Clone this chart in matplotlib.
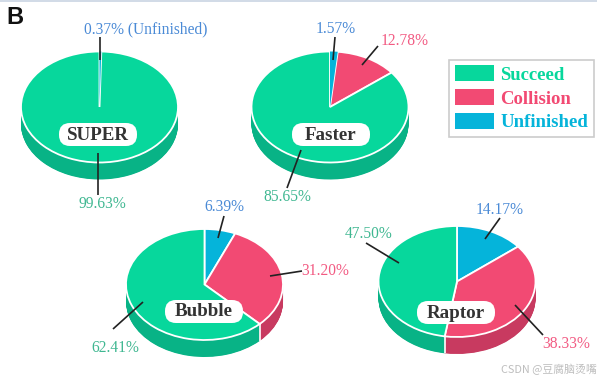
import numpy as np
import matplotlib
matplotlib.use("Agg")
import matplotlib.pyplot as plt
from matplotlib.patches import FancyBboxPatch, Patch

W, H = 597, 381

# data
methods = ["SUPER", "Faster", "Bubble", "Raptor"]
unfinished = [0.37, 1.57, 6.39, 14.17]
collision = [0.0, 12.78, 31.20, 38.33]
succeed = [99.63, 85.65, 62.41, 47.50]
outcomes = ["Succeed", "Collision", "Unfinished"]

# styles
TOP = {"Succeed": "#07d79c", "Collision": "#f24a73", "Unfinished": "#05b4da"}
SIDE = {"Succeed": "#08b386", "Collision": "#c83a60", "Unfinished": "#0590b0"}
TXT = {"Succeed": "#3fb791", "Collision": "#f25a82", "Unfinished": "#4a8ad6"}

# layout, in pixels
RX, RY, DEPTH = 78.5, 55.5, 17
centres = [(99.5, 107), (330, 107), (204.5, 284.5), (457, 281.5)]
pills = [(59, 123), (292, 123), (165, 300), (417, 301)]
PILL_W, PILL_H = 78, 23

# label centre and leader line ends, by outcome, for each pie
label_pos = [
    {"Unfinished": (145.5, 29), "Succeed": (102, 204)},
    {"Unfinished": (335.5, 29), "Collision": (404.5, 41), "Succeed": (287, 197)},
    {"Unfinished": (224, 207), "Collision": (325, 271), "Succeed": (115, 348)},
    {"Unfinished": (500, 210), "Collision": (566, 344), "Succeed": (368.5, 234)},
]
leaders = [
    {"Unfinished": ((100, 37), (100, 60)), "Succeed": ((98, 153), (98, 195))},
    {"Unfinished": ((335, 37), (333, 60)), "Collision": ((378, 46), (362, 65)),
     "Succeed": ((301, 150), (287, 188))},
    {"Unfinished": ((224, 216), (218, 238)), "Collision": ((302, 271), (270, 276)),
     "Succeed": ((143, 302), (113, 329))},
    {"Unfinished": ((500, 218), (485, 239)), "Collision": ((543, 335), (515, 305)),
     "Succeed": ((366, 243), (399, 263))},
]

SERIF = "Liberation Serif"
fig = plt.figure(figsize=(W / 100, H / 100), dpi=100, facecolor="white")


def add_px_axes(x0, y0, w, h, **kw):
    return fig.add_axes([x0 / W, 1 - (y0 + h) / H, w / W, h / H], **kw)


order = ["Unfinished", "Collision", "Succeed"]
for i, name in enumerate(methods):
    cx, cy = centres[i]
    series = {"Unfinished": unfinished[i], "Collision": collision[i], "Succeed": succeed[i]}
    present = [k for k in order if series[k] > 0]
    vals = [series[k] for k in present]

    ax = add_px_axes(cx - RX - 2, cy - RY - 2, 2 * RX + 4, 2 * RY + DEPTH + 4)
    # side wall: dark copies of the same pie stepped downward
    for d in np.arange(DEPTH, 0, -0.5):
        ax.pie(vals, colors=[SIDE[k] for k in present], startangle=90, counterclock=False,
               center=(0, -d / RY), radius=1, wedgeprops={"linewidth": 0})
    ax.pie(vals, colors=[TOP[k] for k in present], startangle=90, counterclock=False,
           center=(0, 0), radius=1, wedgeprops={"edgecolor": "white", "linewidth": 1.3})
    # a very thin slice would vanish under its white edges: lay its fill back on top
    if series["Unfinished"] < 2:
        ax.pie(vals, colors=[TOP["Unfinished"]] + ["none"] * (len(vals) - 1), startangle=90,
               counterclock=False, center=(0, 0), radius=1, wedgeprops={"linewidth": 0})
    ax.set_aspect("auto")
    ax.set_xlim(-(RX + 2) / RX, (RX + 2) / RX)
    ax.set_ylim(-(RY + DEPTH + 2) / RY, (RY + 2) / RY)
    ax.axis("off")

    # white seams on the side wall where a boundary faces the viewer
    for b in np.cumsum(vals)[:-1]:
        th = np.pi / 2 - 2 * np.pi * b / 100
        if np.sin(th) < 0:
            ax.plot([np.cos(th)] * 2, [np.sin(th), np.sin(th) - DEPTH / RY],
                    color="white", lw=1.2, solid_capstyle="butt")

ov = add_px_axes(0, 0, W, H, zorder=5)
ov.set_xlim(0, W)
ov.set_ylim(H, 0)
ov.axis("off")
ov.patch.set_alpha(0)

for i, name in enumerate(methods):
    px, py = pills[i]
    ov.add_patch(FancyBboxPatch((px + 11, py + 11), PILL_W - 22, PILL_H - 22,
                                boxstyle="round,pad=11,rounding_size=11",
                                fc="white", ec="none", zorder=3))
    ov.text(px + PILL_W / 2, py + PILL_H / 2 + 0.5, name, family=SERIF, weight="bold",
            fontsize=13.7, color="#333333", ha="center", va="center", zorder=4)
    series = {"Unfinished": unfinished[i], "Collision": collision[i], "Succeed": succeed[i]}
    for k, (lx, ly) in label_pos[i].items():
        s = f"{series[k]:.2f}%"
        if i == 0 and k == "Unfinished":
            s += " (Unfinished)"
        ov.text(lx, ly, s, family=SERIF, fontsize=11.2, color=TXT[k], ha="center", va="center")
    for k, (p, q) in leaders[i].items():
        ov.plot([p[0], q[0]], [p[1], q[1]], color="#222222", lw=1.2, solid_capstyle="butt", zorder=4)

# legend
handles = [Patch(fc=TOP[k], ec="none") for k in outcomes]
leg = fig.legend(handles, outcomes, loc="upper left",
                 bbox_to_anchor=(449 / W, 1 - 59.5 / H), bbox_transform=fig.transFigure,
                 prop={"family": SERIF, "weight": "bold", "size": 13.5},
                 labelcolor=[TOP["Succeed"], TOP["Collision"], TOP["Unfinished"]],
                 fancybox=False, edgecolor="#cccccc", framealpha=1,
                 handlelength=2.08, handleheight=0.96, handletextpad=0.35,
                 labelspacing=0.28, borderpad=0.3, borderaxespad=0)
leg.get_frame().set_linewidth(1.2)
leg.set_zorder(6)

# panel letter, top rule, watermark
ov.text(6, 24, "B", family="Liberation Sans", weight="bold", fontsize=17, color="#111111",
        ha="left", va="baseline")
ov.axhline(0.5, color="#c9d4e3", lw=1.2)
ov.text(596.5, 369, "CSDN @豆腐脑烫嘴", family=["Noto Sans CJK SC", "DejaVu Sans"], fontsize=7.8,
        color="#bdbdbd", ha="right", va="center")

fig.savefig("out.png", dpi=100)
